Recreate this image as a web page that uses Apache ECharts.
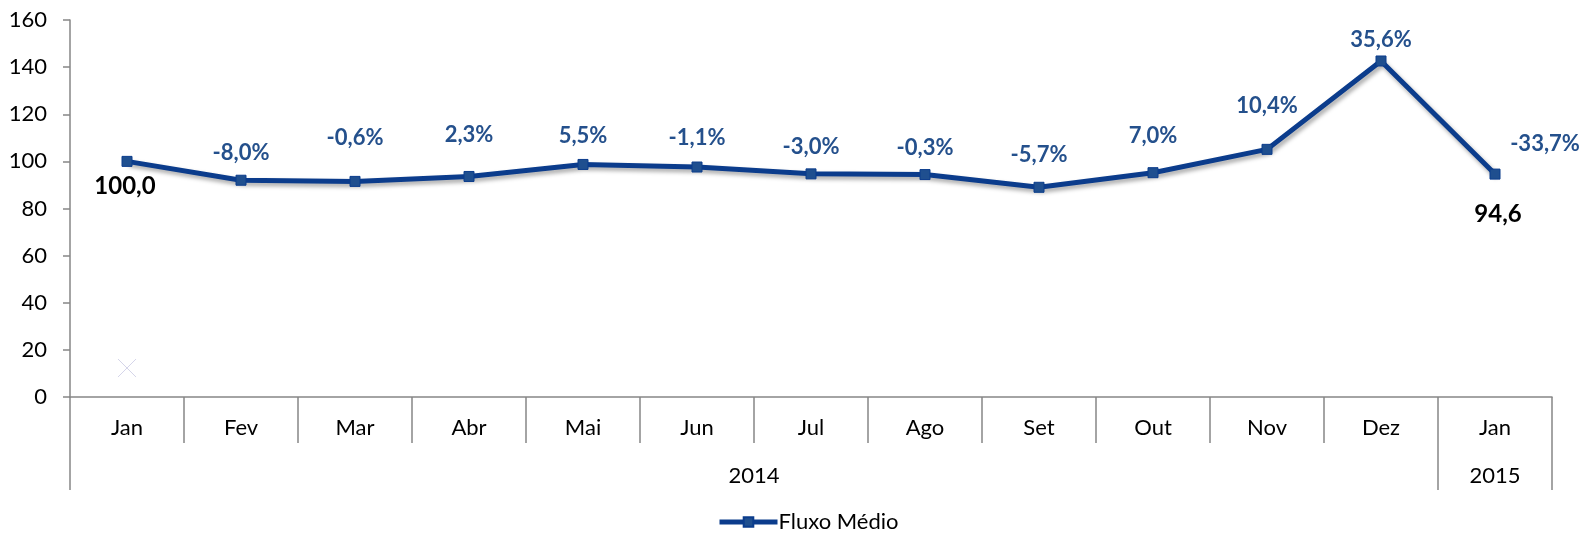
<!DOCTYPE html>
<html>
<head>
<meta charset="utf-8">
<script src="https://cdn.jsdelivr.net/npm/echarts@6/dist/echarts.min.js"></script>
<style>
  html, body { margin: 0; padding: 0; background: #fff; }
  #chart { width: 1579px; height: 534px; }
</style>
</head>
<body>
<div id="chart"></div>
<script>
const months = ["Jan", "Fev", "Mar", "Abr", "Mai", "Jun", "Jul", "Ago", "Set", "Out", "Nov", "Dez", "Jan"];
const fluxo = [100.0, 92.0, 91.5, 93.6, 98.7, 97.6, 94.7, 94.4, 89.0, 95.2, 105.1, 142.6, 94.6];
const pctLabels = ["", "-8,0%", "-0,6%", "2,3%", "5,5%", "-1,1%", "-3,0%", "-0,3%", "-5,7%", "7,0%", "10,4%", "35,6%", "-33,7%"];
const endLabels = ["100,0", "", "", "", "", "", "", "", "", "", "", "", "94,6"];
const years = ["2014", "2015"];
const yearSpans = [12, 1];
const strayMarker = [[0, 12.3]];

// label offsets (px from the point)
const pctOffsets = [[0, 0], [0, -27], [0, -43], [0, -42], [0, -29], [0, -29], [0, -27], [0, -27], [0, -32], [0, -37], [0, -43], [0, -21], [50, -30]];
const endOffsets = [[-2, 25], [0, 0], [0, 0], [0, 0], [0, 0], [0, 0], [0, 0], [0, 0], [0, 0], [0, 0], [0, 0], [0, 0], [3, 40]];

const font = "Lato, 'Noto Sans', sans-serif";
const axisGrey = "#868686";

// year boundaries and centres for the second axis level
const yearTicks = [0];
const yearCentres = [];
let acc = 0;
yearSpans.forEach(s => { yearCentres.push(acc + s / 2); acc += s; yearTicks.push(acc); });

const chart = echarts.init(document.getElementById("chart"));
chart.setOption({
  animation: false,
  textStyle: { fontFamily: font },
  grid: { left: 70, right: 27, top: 20, bottom: 137, containLabel: false },
  legend: {
    left: 712,
    top: 506,
    itemWidth: 58,
    itemHeight: 12,
    data: ["Fluxo Médio"],
    lineStyle: { width: 5 },
    textStyle: { fontFamily: font, fontSize: 22, color: "#000", padding: [0, 0, 0, -4] }
  },
  xAxis: [
    {
      type: "category",
      data: months,
      boundaryGap: true,
      position: "bottom",
      axisLine: { show: true, lineStyle: { color: axisGrey, width: 1.5 } },
      axisTick: { show: true, interval: 0, length: 46, lineStyle: { color: axisGrey, width: 1.5 } },
      axisLabel: { interval: 0, margin: 20, fontSize: 22, color: "#000", fontFamily: font }
    },
    {
      type: "value",
      min: 0,
      max: months.length,
      position: "bottom",
      axisLine: { show: false },
      splitLine: { show: false },
      axisTick: { show: true, customValues: yearTicks, length: 93, lineStyle: { color: axisGrey, width: 1.5 } },
      axisLabel: {
        customValues: yearCentres,
        margin: 68,
        fontSize: 22,
        color: "#000",
        fontFamily: font,
        formatter: v => years[yearCentres.indexOf(v)] || ""
      }
    }
  ],
  yAxis: {
    type: "value",
    min: 0,
    max: 160,
    interval: 20,
    splitLine: { show: false },
    axisLine: { show: true, lineStyle: { color: axisGrey, width: 1.5 } },
    axisTick: { show: true, length: 7, lineStyle: { color: axisGrey, width: 1.5 } },
    axisLabel: { margin: 23, fontSize: 22, color: "#000", fontFamily: font }
  },
  series: [
    {
      name: "Fluxo Médio",
      type: "line",
      xAxisIndex: 0,
      data: fluxo.map((v, i) => ({ value: v, label: { offset: pctOffsets[i] } })),
      symbol: "rect",
      symbolSize: 10,
      itemStyle: { color: "#1f4f8f", borderColor: "#0b3c8c", borderWidth: 1 },
      lineStyle: {
        color: "#0b3c8c",
        width: 5,
        shadowColor: "rgba(0,0,0,0.35)",
        shadowBlur: 4,
        shadowOffsetX: 2,
        shadowOffsetY: 3
      },
      label: {
        show: true,
        position: "inside",
        fontSize: 22,
        fontWeight: "bold",
        color: "#24508c",
        fontFamily: font,
        formatter: p => pctLabels[p.dataIndex]
      },
      z: 3
    },
    {
      name: "valores",
      type: "line",
      xAxisIndex: 0,
      data: fluxo.map((v, i) => ({ value: v, label: { offset: endOffsets[i] } })),
      symbol: "rect",
      symbolSize: 2,
      showSymbol: true,
      silent: true,
      itemStyle: { color: "transparent", borderWidth: 0 },
      lineStyle: { opacity: 0 },
      label: {
        show: true,
        position: "inside",
        fontSize: 24,
        fontWeight: "bold",
        color: "#000",
        fontFamily: font,
        formatter: p => endLabels[p.dataIndex]
      },
      z: 2
    },
    {
      name: "marcador",
      type: "scatter",
      xAxisIndex: 0,
      data: strayMarker,
      symbol: "path://M0,0L10,10M10,0L0,10",
      symbolSize: 18,
      silent: true,
      itemStyle: { color: "none", borderColor: "#c9c9e4", borderWidth: 1 }
    }
  ]
});
</script>
</body>
</html>
